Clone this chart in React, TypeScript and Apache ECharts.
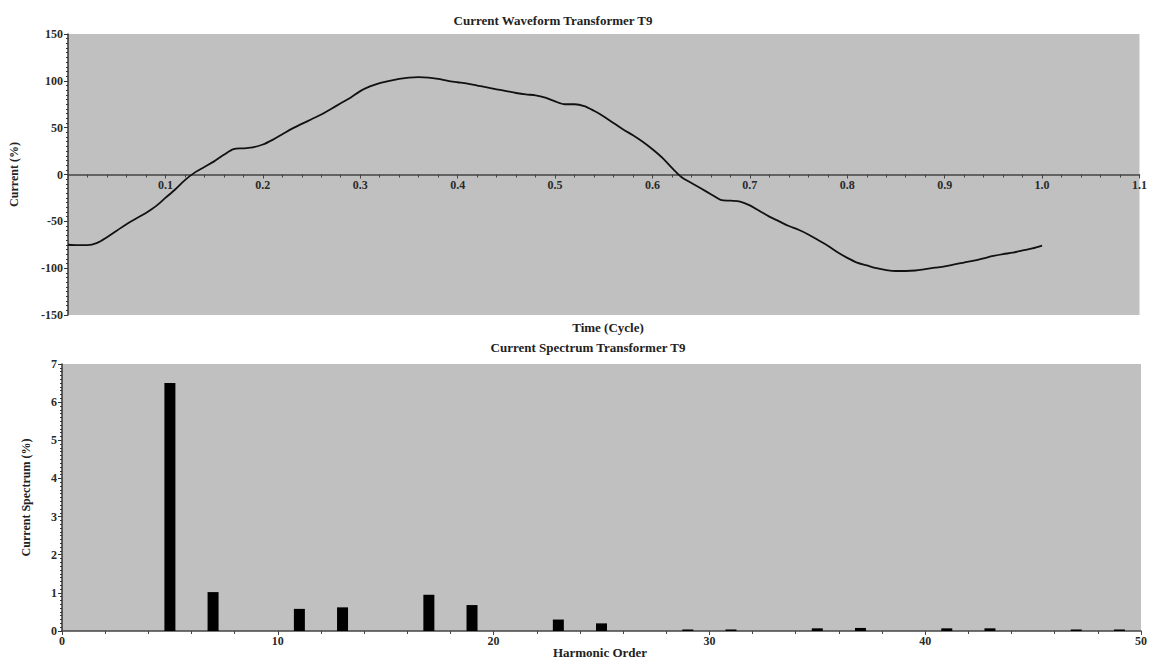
import React, { useEffect, useRef } from "react";
import * as echarts from "echarts";

const waveTime = [
  0, 0.01, 0.02, 0.03, 0.04, 0.05, 0.06, 0.07, 0.08, 0.09,
  0.1, 0.11, 0.12, 0.13, 0.14, 0.15, 0.16, 0.17, 0.18, 0.19,
  0.2, 0.21, 0.22, 0.23, 0.24, 0.25, 0.26, 0.27, 0.28, 0.29,
  0.3, 0.31, 0.32, 0.33, 0.34, 0.35, 0.36, 0.37, 0.38, 0.39,
  0.4, 0.41, 0.42, 0.43, 0.44, 0.45, 0.46, 0.47, 0.48, 0.49,
  0.5, 0.51, 0.52, 0.53, 0.54, 0.55, 0.56, 0.57, 0.58, 0.59,
  0.6, 0.61, 0.62, 0.63, 0.64, 0.65, 0.66, 0.67, 0.68, 0.69,
  0.7, 0.71, 0.72, 0.73, 0.74, 0.75, 0.76, 0.77, 0.78, 0.79,
  0.8, 0.81, 0.82, 0.83, 0.84, 0.85, 0.86, 0.87, 0.88, 0.89,
  0.9, 0.91, 0.92, 0.93, 0.94, 0.95, 0.96, 0.97, 0.98, 0.99, 1.0,
];
const waveCurrent = [
  -75, -75.5, -75.5, -73, -67, -60, -53, -47, -41, -34,
  -25, -16, -6, 2, 8, 14, 21, 27, 28, 29,
  32, 37, 43, 49, 54, 59, 64, 70, 76, 82,
  89, 94, 97.5, 100, 102, 103.5, 104, 103.5, 102, 100,
  98.5, 97, 95, 93, 91, 89, 87, 85.5, 84.5, 82,
  78, 75, 75, 73, 68, 62, 55, 48, 42, 35,
  27, 18, 7, -3, -9, -15, -21, -27, -28, -29,
  -33, -39, -45, -50, -55, -59, -64, -70, -76, -83,
  -89, -94, -97, -100, -102, -103, -103, -102.5, -101, -99.5,
  -98, -96, -94, -92, -89.5, -87, -85, -83.5, -81, -79, -76,
];

const harmonicOrder = [5, 7, 11, 13, 17, 19, 23, 25, 29, 31, 35, 37, 41, 43, 47, 49];
const harmonicValue = [6.5, 1.02, 0.58, 0.62, 0.95, 0.68, 0.3, 0.2, 0.04, 0.04, 0.07, 0.08, 0.07, 0.07, 0.04, 0.04];

const waveXTicks = { min: 0, max: 1.1, interval: 0.1 };
const waveYTicks = { min: -150, max: 150, interval: 50 };
const specXTicks = { min: 0, max: 50, interval: 10 };
const specYTicks = { min: 0, max: 7, interval: 1 };

const FONT = "'Liberation Serif', 'DejaVu Serif', serif";
const AX = "#333";
const FS = 13;

export default function App() {
  const ref = useRef<HTMLDivElement>(null);
  useEffect(() => {
    if (!ref.current) return;
    const chart = echarts.init(ref.current, undefined, { renderer: "svg" });
    const labelStyle = { fontFamily: FONT, fontWeight: "bold" as const, fontSize: 12, color: "#2a2a2a" };
    const nameStyle = { fontFamily: FONT, fontWeight: "bold" as const, fontSize: 12, color: "#222" };
    const txt = (text: string, x: number, y: number) => ({
      type: "text",
      x,
      y,
      style: { text, font: `bold ${FS}px ${FONT}`, fill: "#222", textAlign: "center", textVerticalAlign: "middle" },
    });
    chart.setOption({
      animation: false,
      backgroundColor: "#ffffff",
      grid: [
        { left: 68, top: 34, width: 1080, height: 281, show: true, backgroundColor: "#c0c0c0", borderWidth: 0 },
        { left: 62, top: 364, width: 1081, height: 267, show: true, backgroundColor: "#c0c0c0", borderWidth: 0 },
      ],
      xAxis: [
        {
          type: "value",
          gridIndex: 0,
          ...waveXTicks,
          offset: -140.5,
          axisLine: { onZero: false, lineStyle: { color: "#444", width: 1.5 } },
          axisTick: { show: true, length: 4, lineStyle: { color: "#444" } },
          minorTick: { show: true, splitNumber: 5, length: 3, lineStyle: { color: "#444" } },
          splitLine: { show: false },
          axisLabel: {
            ...labelStyle,
            margin: 4,
            formatter: (v: number) => (v === 0 ? "" : v.toFixed(1)),
          },
        },
        {
          type: "value",
          gridIndex: 1,
          ...specXTicks,
          axisLine: { onZero: false, lineStyle: { color: "#444", width: 1.5 } },
          axisTick: { show: true, length: 4, lineStyle: { color: "#444" } },
          minorTick: { show: true, splitNumber: 5, length: 3, lineStyle: { color: "#444" } },
          splitLine: { show: false },
          axisLabel: { ...labelStyle, margin: 4 },
        },
      ],
      yAxis: [
        {
          type: "value",
          gridIndex: 0,
          ...waveYTicks,
          name: "Current (%)",
          nameLocation: "middle",
          nameGap: 48,
          nameTextStyle: nameStyle,
          axisLine: { show: true, onZero: false, lineStyle: { color: AX, width: 1.5 } },
          axisTick: { show: true, length: 4, lineStyle: { color: AX } },
          minorTick: { show: true, splitNumber: 10, length: 2, lineStyle: { color: AX } },
          splitLine: { show: false },
          axisLabel: { ...labelStyle, margin: 5 },
        },
        {
          type: "value",
          gridIndex: 1,
          ...specYTicks,
          name: "Current Spectrum (%)",
          nameLocation: "middle",
          nameGap: 30,
          nameTextStyle: nameStyle,
          axisLine: { show: true, onZero: false, lineStyle: { color: AX, width: 1.5 } },
          axisTick: { show: true, length: 4, lineStyle: { color: AX } },
          minorTick: { show: true, splitNumber: 10, length: 2, lineStyle: { color: AX } },
          splitLine: { show: false },
          axisLabel: { ...labelStyle, margin: 5 },
        },
      ],
      series: [
        {
          type: "line",
          xAxisIndex: 0,
          yAxisIndex: 0,
          data: waveTime.map((t, i) => [t, waveCurrent[i]]),
          showSymbol: false,
          smooth: 0.3,
          lineStyle: { color: "#111", width: 1.8 },
          itemStyle: { color: "#111" },
        },
        {
          type: "bar",
          xAxisIndex: 1,
          yAxisIndex: 1,
          data: harmonicOrder.map((h, i) => [h, harmonicValue[i]]),
          barWidth: 11,
          itemStyle: { color: "#000" },
        },
      ],
      graphic: [
        txt("Current Waveform Transformer T9", 553, 20),
        txt("Time (Cycle)", 608, 327),
        txt("Current Spectrum Transformer T9", 588, 347),
        txt("Harmonic Order", 600, 652),
      ],
    });
    return () => chart.dispose();
  }, []);
  return (
    <div
      ref={ref}
      style={{ position: "absolute", left: 0, top: 0, width: 1150, height: 661 }}
    />
  );
}
